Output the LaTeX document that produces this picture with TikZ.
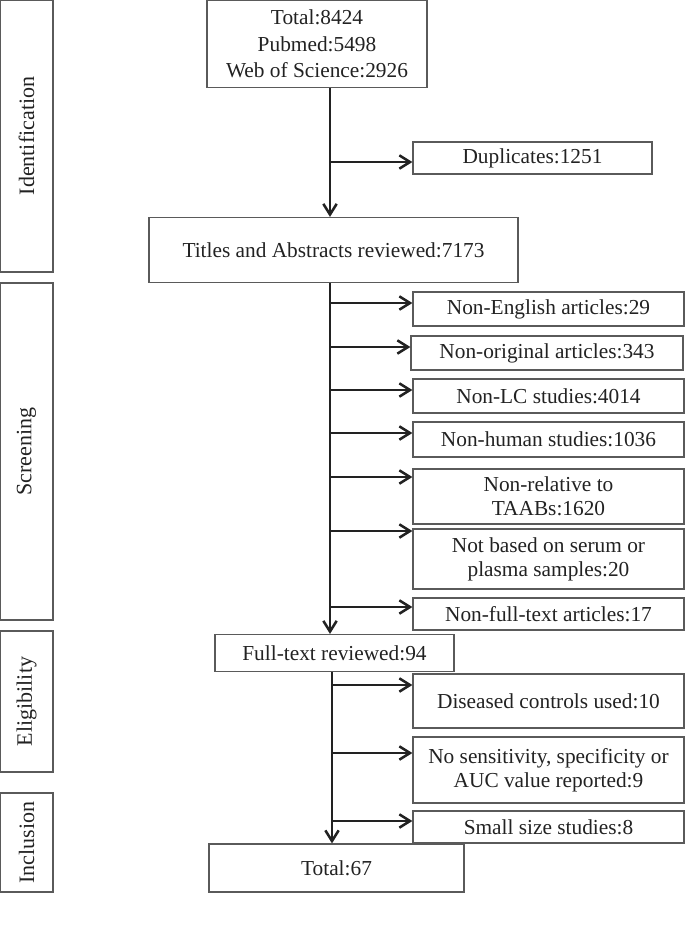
\documentclass[tikz,border=0pt]{standalone}
\usepackage{fontspec}
\setmainfont{Liberation Serif}
\usetikzlibrary{arrows.meta}
\definecolor{boxgray}{HTML}{5A5A5A}
\definecolor{inkc}{HTML}{222222}
\newcommand\pxu{0.75pt}
\tikzset{
  bx/.style={draw=boxgray, line width=0.9pt, inner sep=0pt, align=center, text=inkc,
    font=\fontsize{16}{18}\selectfont},
  side/.style={rotate=90, text=inkc, font=\fontsize{16.5}{18}\selectfont},
  arr/.style={draw=inkc, line width=1.9pt, -{Straight Barb[length=8pt,width=10pt]}}
}
\begin{document}
\begin{tikzpicture}[x=0.75pt,y=-0.75pt]
\useasboundingbox (0,0) rectangle (685,926);
% side stage boxes
\node[bx, minimum width=53*\pxu, minimum height=272*\pxu] (sid) at (26.5,136) {};
\node[side] (sidt) at (sid.center) {Identification};
\node[bx, minimum width=53*\pxu, minimum height=337*\pxu] (ssc) at (26.5,451.5) {};
\node[side] (ssct) at (ssc.center) {Screening};
\node[bx, minimum width=53*\pxu, minimum height=141*\pxu] (sel) at (26.5,701.5) {};
\node[side] (selt) at (sel.center) {Eligibility};
\node[bx, minimum width=53*\pxu, minimum height=99*\pxu] (sin) at (26.5,842.5) {};
\node[side] (sint) at (sin.center) {Inclusion};
% main boxes
\node[bx, minimum width=220*\pxu, minimum height=87*\pxu, font=\fontsize{16}{20}\selectfont] (top) at (317,44) {Total:8424\\Pubmed:5498\\Web of Science:2926};
\node[bx, minimum width=239*\pxu, minimum height=32*\pxu] (dup) at (532.5,158) {Duplicates:1251};
\node[bx, minimum width=369*\pxu, minimum height=65*\pxu] (tit) at (333.5,250) {Titles and Abstracts reviewed:7173};
\node[bx, minimum width=271*\pxu, minimum height=34*\pxu] (ne) at (548.5,309) {Non-English articles:29};
\node[bx, minimum width=272*\pxu, minimum height=34*\pxu] (no) at (547,353) {Non-original articles:343};
\node[bx, minimum width=271*\pxu, minimum height=34*\pxu] (lc) at (548.5,396) {Non-LC studies:4014};
\node[bx, minimum width=271*\pxu, minimum height=35*\pxu] (hu) at (548.5,439.5) {Non-human studies:1036};
\node[bx, minimum width=271*\pxu, minimum height=55*\pxu] (rel) at (548.5,496.5) {Non-relative to\\TAABs:1620};
\node[bx, minimum width=271*\pxu, minimum height=60*\pxu] (ser) at (548.5,559) {Not based on serum or\\plasma samples:20};
\node[bx, minimum width=271*\pxu, minimum height=32*\pxu] (nft) at (548.5,614) {Non-full-text articles:17};
\node[bx, minimum width=239*\pxu, minimum height=37*\pxu] (full) at (334.5,653) {Full-text reviewed:94};
\node[bx, minimum width=271*\pxu, minimum height=54*\pxu] (dis) at (548.5,701) {Diseased controls used:10};
\node[bx, minimum width=271*\pxu, minimum height=66*\pxu] (sens) at (548.5,770) {No sensitivity, specificity or\\AUC value reported:9};
\node[bx, minimum width=271*\pxu, minimum height=32*\pxu] (small) at (548.5,827) {Small size studies:8};
\node[bx, minimum width=255*\pxu, minimum height=48*\pxu] (total) at (336.5,868) {Total:67};
% trunk coordinates
\coordinate (ka) at (330,0);
\coordinate (kb) at (332,0);
\draw[arr] (top.south -| ka) -- (tit.north -| ka);
\draw[arr] (tit.south -| ka) -- (full.north -| ka);
\draw[arr] (full.south -| kb) -- (total.north -| kb);
% branches
\coordinate (b0) at (330,162);
\coordinate (b1) at (330,303);
\coordinate (b2) at (330,347);
\coordinate (b3) at (330,390);
\coordinate (b4) at (330,433);
\coordinate (b5) at (330,477);
\coordinate (b6) at (330,531);
\coordinate (b7) at (330,607);
\coordinate (c1) at (333,685);
\coordinate (c2) at (333,753);
\coordinate (c3) at (333,821);
\draw[arr] (b0) -- (b0 -| dup.west);
\draw[arr] (b1) -- (b1 -| ne.west);
\draw[arr] (b2) -- (b2 -| no.west);
\draw[arr] (b3) -- (b3 -| lc.west);
\draw[arr] (b4) -- (b4 -| hu.west);
\draw[arr] (b5) -- (b5 -| rel.west);
\draw[arr] (b6) -- (b6 -| ser.west);
\draw[arr] (b7) -- (b7 -| nft.west);
\draw[arr] (c1) -- (c1 -| dis.west);
\draw[arr] (c2) -- (c2 -| sens.west);
\draw[arr] (c3) -- (c3 -| small.west);
\end{tikzpicture}
\end{document}
